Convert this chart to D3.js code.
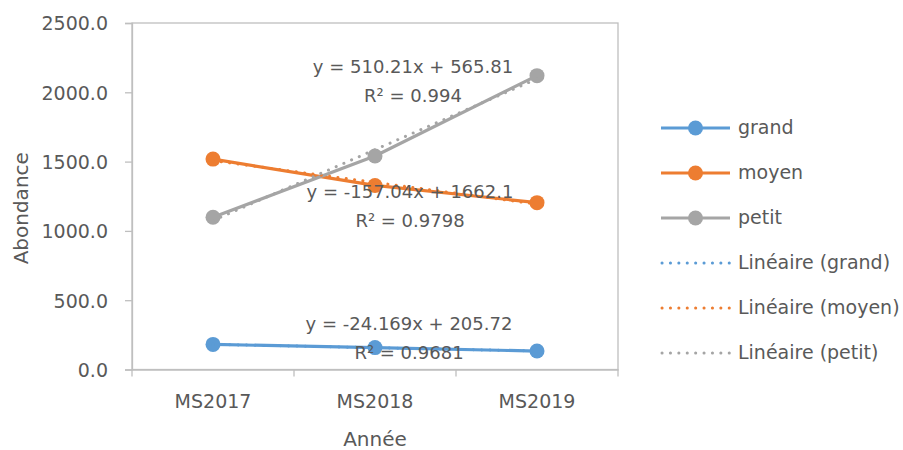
<!DOCTYPE html>
<html><head><meta charset="utf-8">
<script src="https://cdn.jsdelivr.net/npm/d3@7"></script>
<style>body{margin:0;background:#fff}svg{display:block}text{font-family:"DejaVu Sans",sans-serif;fill:#595959}</style>
</head><body><svg id="c" width="903" height="450"></svg>
<script>
const categories = ["MS2017","MS2018","MS2019"];
const seriesNames = ["grand","moyen","petit"];
const grand = [181, 158, 133];
const moyen = [1518, 1328, 1204];
const petit = [1098, 1540, 2120];
const yTicks = [0, 500, 1000, 1500, 2000, 2500];
const equations = ["y = -24.169x + 205.72","y = -157.04x + 1662.1","y = 510.21x + 565.81"];
const r2Labels = ["R² = 0.9681","R² = 0.9798","R² = 0.994"];
const trendNames = ["Linéaire (grand)","Linéaire (moyen)","Linéaire (petit)"];
const colors = ["#5B9BD5","#ED7D31","#A5A5A5"];
const values = [grand, moyen, petit];

const svg = d3.select("#c");
const L = 132, R = 618, T = 23, B = 369.5;
const x = d3.scaleBand().domain(categories).range([L, R]);
const y = d3.scaleLinear().domain([0, 2500]).range([B, T]);
const cx = c => x(c) + x.bandwidth()/2;
const axisCol = "#BFBFBF";

// plot border
svg.append("rect").attr("x", L).attr("y", T).attr("width", R-L).attr("height", B-T)
  .attr("fill","none").attr("stroke", axisCol).attr("stroke-width",1.3);

// y axis
const ya = svg.append("g").attr("transform",`translate(${L},0)`)
  .call(d3.axisLeft(y).tickValues(yTicks).tickSize(7).tickPadding(17).tickFormat(d3.format(".1f")));
ya.select(".domain").attr("stroke", axisCol).attr("stroke-width",1.3);
ya.selectAll(".tick line").attr("stroke", axisCol).attr("stroke-width",1.3);
ya.selectAll(".tick text").attr("font-size",19).attr("font-family",null).attr("fill","#595959").attr("dy","0.36em");

// x axis
const xa = svg.append("g").attr("transform",`translate(0,${B})`)
  .call(d3.axisBottom(x).tickSize(0).tickPadding(25));
xa.select(".domain").attr("stroke", axisCol).attr("stroke-width",1.3);
xa.selectAll(".tick text").attr("font-size",19).attr("font-family",null).attr("fill","#595959");
// category boundary ticks
const bounds = categories.map(c => x(c)).concat([R]);
svg.append("g").selectAll("line").data(bounds).join("line")
  .attr("x1", d=>d).attr("x2", d=>d).attr("y1", B).attr("y2", B+7)
  .attr("stroke", axisCol).attr("stroke-width",1.3);

// axis titles
svg.append("text").attr("x", (L+R)/2 - 0).attr("y", 446).attr("text-anchor","middle")
  .attr("font-size",20).text("Année");
svg.append("text").attr("transform",`translate(28,${(T+B)/2+12}) rotate(-90)`).attr("text-anchor","middle")
  .attr("font-size",20).text("Abondance");

// regression
function fit(v){
  const xs = v.map((_,i)=>i+1);
  const mx = d3.mean(xs), my = d3.mean(v);
  const b = d3.sum(xs.map((xi,i)=>(xi-mx)*(v[i]-my))) / d3.sum(xs.map(xi=>(xi-mx)**2));
  return {b, a: my - b*mx};
}

const line = d3.line().x((d,i)=>cx(categories[i])).y(d=>y(d));
values.forEach((v, k) => {
  const g = svg.append("g");
  g.append("path").attr("d", line(v)).attr("fill","none").attr("stroke", colors[k])
    .attr("stroke-width",3.2).attr("stroke-linejoin","round");
  g.selectAll("circle").data(v).join("circle")
    .attr("cx",(d,i)=>cx(categories[i])).attr("cy", d=>y(d)).attr("r",7.5).attr("fill",colors[k]);
});
values.forEach((v, k) => {
  const f = fit(v);
  svg.append("line")
    .attr("x1", cx(categories[0])).attr("y1", y(f.a + f.b*1))
    .attr("x2", cx(categories[2])).attr("y2", y(f.a + f.b*3))
    .attr("stroke", colors[k]).attr("stroke-width",3).attr("stroke-linecap","round")
    .attr("stroke-dasharray","0.1 8.3");
});

// equation labels (grand, moyen, petit)
const eqPos = [[409,330],[410,198],[413,73]];
equations.forEach((e,k)=>{
  svg.append("text").attr("x", eqPos[k][0]).attr("y", eqPos[k][1]).attr("text-anchor","middle")
    .attr("font-size",18).text(e);
  svg.append("text").attr("x", eqPos[k][0]).attr("y", eqPos[k][1]+29).attr("text-anchor","middle")
    .attr("font-size",18).text(r2Labels[k]);
});

// legend
const legY = d3.scalePoint().domain(d3.range(6)).range([128, 353]);
const lx1 = 661, lx2 = 730, tx = 738;
seriesNames.forEach((n,k)=>{
  const yy = legY(k);
  svg.append("line").attr("x1",lx1).attr("x2",lx2).attr("y1",yy).attr("y2",yy)
    .attr("stroke",colors[k]).attr("stroke-width",3.2);
  svg.append("circle").attr("cx",(lx1+lx2)/2).attr("cy",yy).attr("r",7.5).attr("fill",colors[k]);
  svg.append("text").attr("x",tx).attr("y",yy).attr("dy","0.33em").attr("font-size",19).text(n);
});
trendNames.forEach((n,k)=>{
  const yy = legY(k+3);
  svg.append("line").attr("x1",lx1+1).attr("x2",lx2).attr("y1",yy).attr("y2",yy)
    .attr("stroke",colors[k]).attr("stroke-width",3).attr("stroke-linecap","round")
    .attr("stroke-dasharray","0.1 8.3");
  svg.append("text").attr("x",tx).attr("y",yy).attr("dy","0.33em").attr("font-size",19).text(n);
});
</script></body></html>
